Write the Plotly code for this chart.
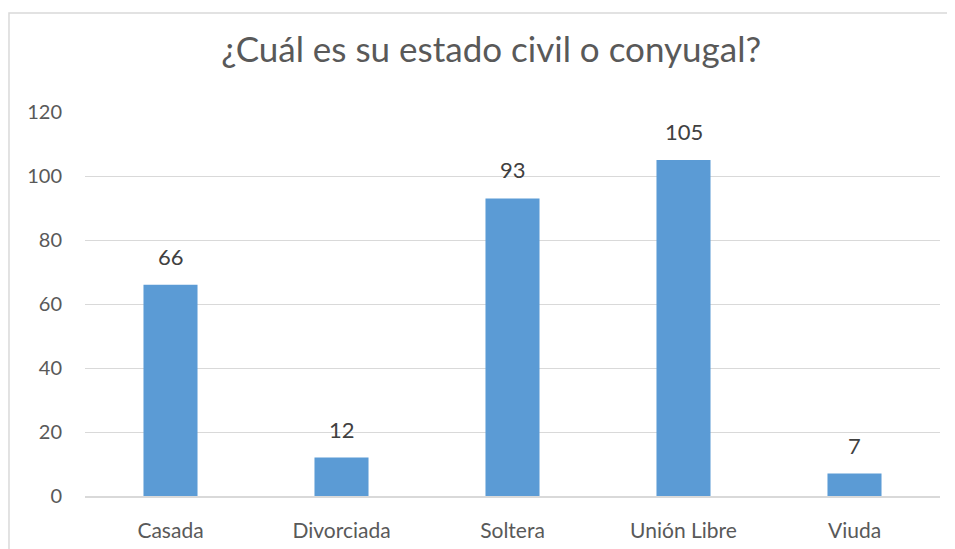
import plotly.graph_objects as go

categorias = ['Casada', 'Divorciada', 'Soltera', 'Unión Libre', 'Viuda']
valores = [66, 12, 93, 105, 7]
ticks_y = [0, 20, 40, 60, 80, 100, 120]

gris = '#595959'
fuente = 'Lato, Open Sans, sans-serif'

fig = go.Figure(go.Bar(
    x=categorias,
    y=valores,
    marker=dict(color='#5b9bd5', line=dict(width=0)),
))

# etiquetas de datos encima de cada barra
for c, v in zip(categorias, valores):
    fig.add_annotation(x=c, y=v, text=str(v), showarrow=False,
                       yanchor='bottom', yshift=13,
                       font=dict(size=22, color='#404040', family=fuente))

# marco exterior del gráfico
fig.add_shape(type='rect', xref='paper', yref='paper',
              x0=-0.0889, x1=1.2, y0=-0.5, y1=1.2578,
              line=dict(color='#d9d9d9', width=1.5))

# la página html deja 8px de margen, por eso el ancho/alto es menor
fig.update_layout(
    width=947, height=541,
    margin=dict(l=77, r=15, t=104, b=53),
    paper_bgcolor='white', plot_bgcolor='white',
    bargap=0.684,
    showlegend=False,
    title=dict(text='¿Cuál es su estado civil o conyugal?', xref='paper', x=0.475,
               xanchor='center', y=0.9224, yanchor='middle',
               font=dict(size=35, color=gris, family=fuente)),
    font=dict(family=fuente, color=gris),
    xaxis=dict(showline=True, linecolor='#d9d9d9', linewidth=1.5, ticks='',
               tickfont=dict(size=21, color=gris), ticklabelstandoff=15,
               automargin=False),
    yaxis=dict(range=[0, 120], tickvals=ticks_y, showline=False, zeroline=False,
               gridcolor='#d9d9d9', gridwidth=1.2, automargin=False,
               tickfont=dict(size=20, color=gris), ticklabelstandoff=22),
)

fig.write_html('out.html')
